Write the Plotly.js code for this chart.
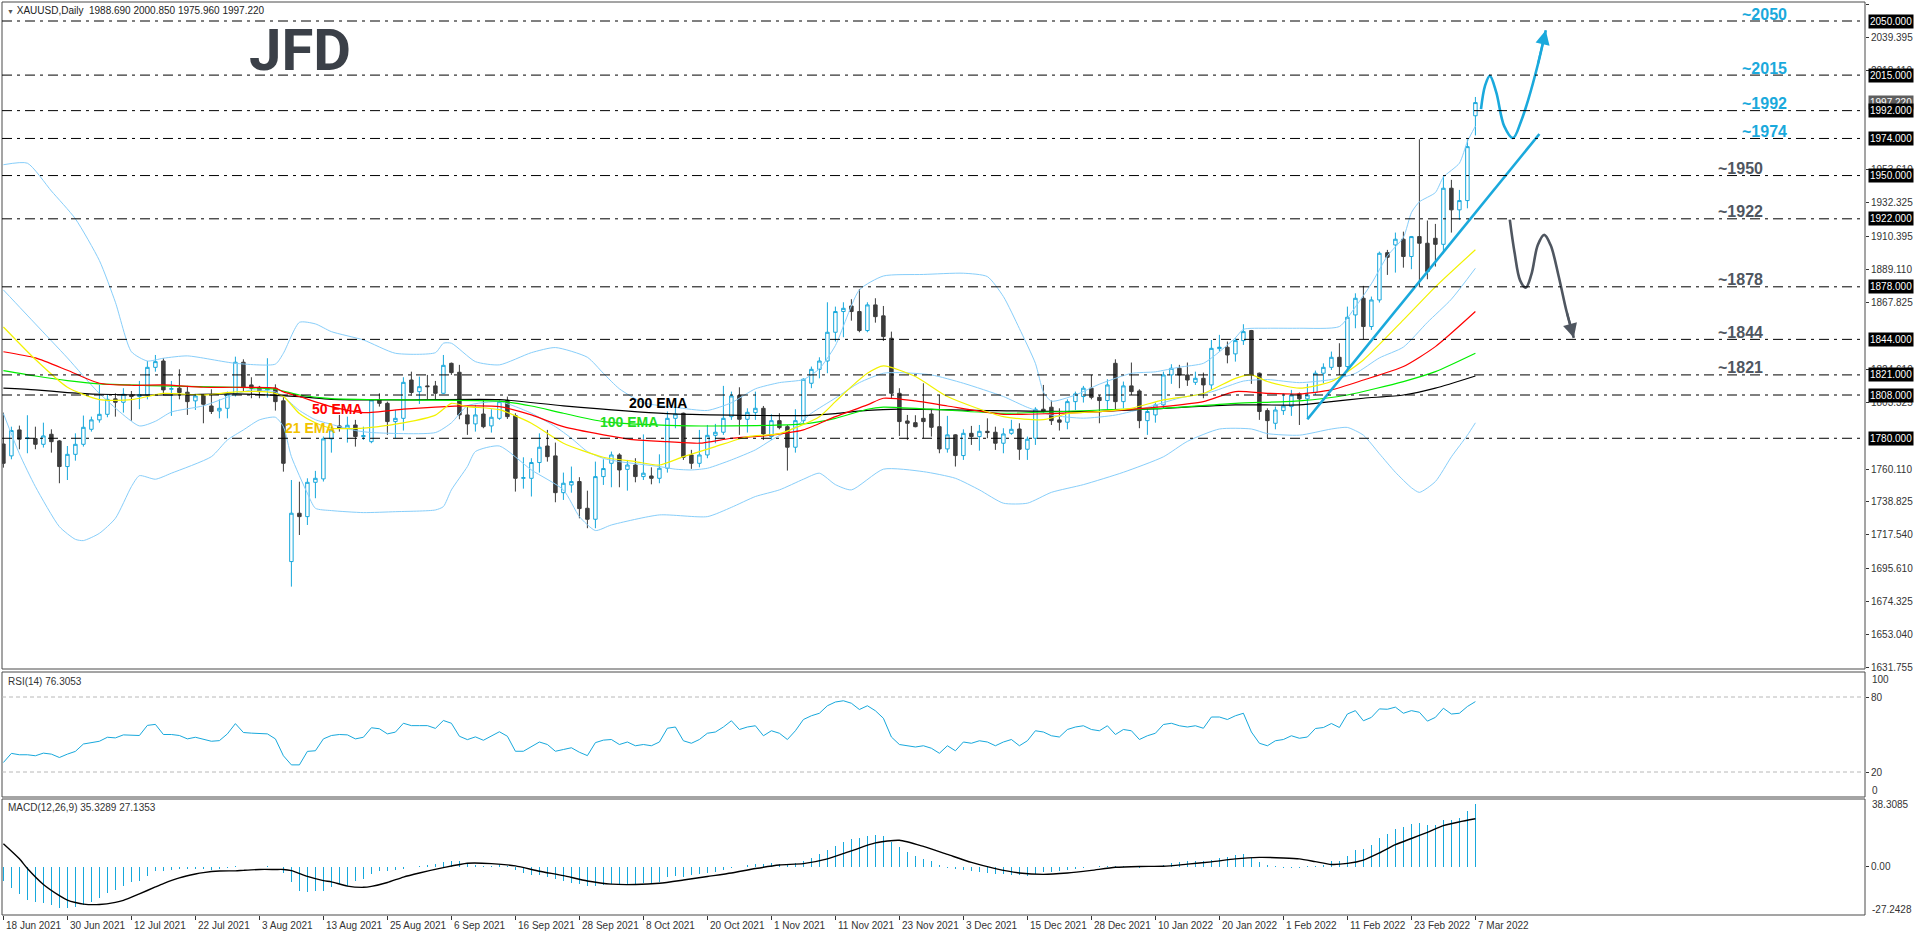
<!DOCTYPE html>
<html><head><meta charset="utf-8">
<script src="https://cdn.plot.ly/plotly-3.0.1.min.js"></script>
<style>html,body{margin:0;padding:0;background:#fff;overflow:hidden}#chart{width:1916px;height:936px}</style>
</head><body><div id="chart"></div>
<script>
// ---------------- DATA ----------------
const dateLabels = ['18 Jun 2021','30 Jun 2021','12 Jul 2021','22 Jul 2021','3 Aug 2021','13 Aug 2021','25 Aug 2021','6 Sep 2021','16 Sep 2021','28 Sep 2021','8 Oct 2021','20 Oct 2021','1 Nov 2021','11 Nov 2021','23 Nov 2021','3 Dec 2021','15 Dec 2021','28 Dec 2021','10 Jan 2022','20 Jan 2022','1 Feb 2022','11 Feb 2022','23 Feb 2022','7 Mar 2022'];
const dateTickBars = [0,8,16,24,32,40,48,56,64,72,80,88,96,104,112,120,128,136,144,152,160,168,176,184];

const open = [
1776.3,1768.6,1785.4,1779.8,1779.8,1776.1,1782.6,1778.3,1761.7,1769.6,
1776.1,1785.8,1791.9,1795.5,1805.5,1803.3,1808.0,1807.0,1808.0,1825.9,
1830.0,1811.7,1812.4,1809.8,1804.2,1807.6,1800.9,1797.7,1799.4,1808.5,
1829.2,1814.5,1813.0,1811.3,1812.4,1804.2,1700.2,1731.5,1729.3,1751.5,
1753.7,1779.6,1788.0,1786.5,1788.6,1781.1,1777.8,1804.8,1802.6,1790.8,
1792.9,1817.7,1810.2,1813.9,1813.9,1809.1,1828.5,1822.7,1795.1,1789.3,
1795.7,1788.0,1792.9,1804.4,1794.7,1754.1,1754.1,1764.3,1775.0,1768.6,
1744.8,1749.8,1752.0,1734.7,1727.6,1755.2,1763.8,1769.2,1759.9,1762.7,
1755.2,1755.6,1754.1,1760.6,1792.9,1796.2,1769.2,1763.8,1769.2,1781.9,
1783.9,1794.0,1807.6,1792.3,1796.6,1799.4,1781.1,1791.4,1787.5,1774.2,
1791.4,1815.6,1824.6,1830.0,1848.6,1862.0,1865.6,1862.0,1849.7,1866.3,
1859.2,1844.7,1809.1,1791.2,1790.1,1792.9,1795.7,1787.5,1773.1,1782.2,
1768.8,1783.2,1781.1,1784.5,1783.9,1776.8,1783.2,1786.0,1772.9,1780.0,
1798.8,1800.1,1791.9,1790.4,1803.7,1807.0,1812.4,1806.5,1804.4,1828.5,
1803.7,1813.9,1810.6,1791.4,1795.1,1801.6,1821.0,1825.3,1821.0,1816.2,
1818.8,1814.5,1838.0,1838.9,1834.6,1843.2,1849.7,1822.1,1797.9,1789.7,
1797.9,1800.5,1808.7,1805.5,1809.6,1822.1,1825.9,1832.4,1826.4,1859.8,
1870.6,1852.3,1869.5,1900.1,1905.1,1908.8,1897.6,1910.5,1906.2,1909.4,
1905.5,1941.8,1927.8,1933.8,1988.69];
const high = [
1796.6,1787.5,1788.2,1794.9,1787.5,1790.1,1785.8,1778.9,1775.0,1783.2,
1794.7,1794.0,1814.5,1808.5,1809.1,1812.4,1810.6,1817.1,1830.0,1833.9,
1831.8,1817.1,1824.6,1813.9,1808.7,1808.5,1811.7,1805.2,1810.2,1832.8,
1831.1,1819.5,1813.9,1831.8,1814.9,1807.0,1753.0,1751.9,1754.1,1758.9,
1781.1,1787.5,1795.1,1794.0,1791.9,1787.5,1805.2,1809.1,1803.7,1798.3,
1819.5,1823.1,1819.9,1821.0,1817.1,1833.9,1829.0,1827.5,1800.5,1801.6,
1804.8,1798.8,1804.6,1807.0,1796.2,1767.7,1767.1,1783.2,1785.4,1777.2,
1757.8,1761.7,1754.8,1746.1,1764.9,1766.4,1771.4,1770.3,1766.0,1767.1,
1782.5,1761.2,1769.6,1797.3,1802.6,1796.6,1772.5,1785.4,1788.6,1789.3,
1813.9,1810.2,1813.0,1799.4,1810.2,1800.9,1795.5,1796.2,1788.6,1798.8,
1818.8,1826.4,1832.4,1868.0,1865.2,1868.0,1870.0,1876.6,1868.0,1870.6,
1865.6,1849.0,1812.4,1795.1,1794.9,1815.6,1798.8,1808.0,1794.5,1782.6,
1785.8,1788.0,1788.6,1792.9,1787.5,1786.5,1791.9,1789.7,1781.1,1800.1,
1814.5,1804.4,1799.4,1805.2,1810.2,1813.9,1821.0,1808.0,1818.2,1831.1,
1816.7,1829.0,1811.7,1799.4,1803.1,1823.1,1827.9,1827.5,1829.0,1823.1,
1822.5,1843.6,1846.9,1842.6,1844.7,1853.8,1850.1,1822.5,1799.4,1800.5,
1809.1,1811.3,1809.6,1815.2,1823.8,1828.5,1836.1,1841.5,1865.2,1873.8,
1878.6,1871.7,1900.8,1901.9,1913.1,1913.7,1910.9,1973.5,1920.9,1918.7,
1949.8,1947.2,1940.7,1973.5,2000.85];
const low = [
1761.0,1766.4,1772.9,1770.3,1772.9,1774.0,1770.7,1750.9,1753.0,1765.5,
1774.6,1784.3,1790.1,1793.6,1794.0,1796.6,1791.4,1798.8,1805.2,1823.1,
1808.0,1794.5,1805.2,1795.1,1798.3,1789.7,1795.7,1792.9,1792.9,1807.0,
1810.2,1805.9,1805.9,1806.3,1797.9,1758.4,1684.0,1717.4,1723.9,1741.2,
1752.0,1770.7,1784.3,1777.2,1774.6,1778.9,1776.8,1800.5,1782.2,1780.0,
1785.0,1807.4,1802.2,1805.2,1804.8,1808.7,1821.0,1792.3,1782.2,1784.3,
1786.5,1783.7,1791.9,1792.5,1745.5,1747.4,1742.3,1757.8,1764.9,1738.6,
1740.1,1744.8,1728.2,1721.8,1721.8,1749.8,1748.3,1748.3,1746.1,1751.5,
1753.0,1750.2,1750.9,1757.8,1786.5,1766.0,1760.2,1761.2,1767.1,1776.8,
1782.2,1791.9,1782.2,1783.7,1791.9,1778.9,1778.9,1785.8,1759.1,1770.7,
1789.7,1812.4,1818.8,1822.1,1842.6,1845.4,1856.1,1848.6,1848.6,1854.8,
1843.0,1805.9,1781.5,1778.9,1787.1,1780.0,1781.1,1770.3,1770.7,1761.7,
1766.0,1775.7,1772.0,1780.0,1772.5,1770.3,1782.2,1766.0,1766.0,1775.7,
1796.2,1788.6,1785.0,1785.8,1798.3,1803.1,1805.2,1789.7,1798.3,1798.3,
1799.4,1808.0,1786.5,1782.2,1790.1,1799.4,1815.2,1812.4,1813.9,1814.5,
1805.9,1811.3,1836.1,1828.5,1829.6,1840.4,1815.2,1791.9,1780.0,1785.8,
1795.1,1794.5,1788.6,1792.3,1808.0,1815.6,1824.2,1821.0,1824.2,1851.2,
1844.1,1850.1,1867.8,1885.7,1887.2,1890.4,1889.4,1877.7,1882.9,1891.1,
1899.7,1913.1,1921.3,1928.8,1975.96];
const close = [
1763.8,1785.0,1779.4,1780.2,1776.1,1781.5,1777.8,1761.7,1769.6,1776.1,
1787.1,1791.9,1795.5,1805.2,1803.3,1808.5,1807.0,1808.3,1825.9,1829.6,
1811.3,1812.1,1809.6,1803.7,1807.4,1802.0,1797.3,1799.4,1808.5,1829.2,
1813.0,1812.4,1810.2,1811.9,1803.7,1763.8,1731.5,1729.3,1751.5,1754.1,
1779.6,1785.4,1786.5,1788.4,1781.1,1781.7,1804.8,1802.6,1790.8,1792.9,
1816.2,1809.6,1813.4,1813.4,1809.1,1827.2,1822.5,1795.1,1789.3,1795.1,
1787.5,1793.6,1803.7,1794.0,1754.1,1754.5,1764.3,1774.2,1768.1,1744.8,
1750.9,1752.0,1734.5,1727.6,1755.2,1760.4,1769.2,1759.5,1762.7,1755.2,
1757.4,1754.1,1760.6,1792.9,1795.7,1767.7,1763.8,1769.2,1781.9,1783.9,
1792.9,1807.4,1792.3,1796.8,1799.4,1782.8,1791.4,1786.9,1774.2,1791.4,
1818.2,1824.6,1830.0,1848.6,1862.0,1864.1,1862.0,1849.7,1866.3,1858.7,
1845.8,1809.1,1790.8,1789.7,1787.5,1790.8,1787.1,1773.1,1782.2,1768.8,
1783.2,1781.1,1784.5,1783.7,1776.8,1782.8,1785.8,1772.9,1779.4,1798.8,
1797.3,1791.4,1790.4,1803.7,1808.7,1812.4,1806.5,1804.4,1814.5,1803.7,
1813.9,1810.2,1791.4,1797.3,1801.6,1821.0,1825.3,1821.0,1817.7,1818.8,
1814.5,1838.2,1838.9,1833.9,1843.2,1849.0,1821.6,1797.3,1791.4,1798.3,
1800.9,1808.0,1805.5,1808.0,1822.1,1825.9,1832.4,1826.4,1858.3,1870.6,
1852.3,1869.5,1899.7,1897.1,1908.8,1897.6,1910.5,1906.2,1887.9,1905.5,
1941.8,1927.8,1933.8,1968.7,1997.22];

// Bollinger bands (sampled bars)
const bbUpX = [0,3,6,9,12,14,16,18,20,23,29,34,35,37,39,41,45,49,54,55,56,59,62,66,69,73,75,77,80,84,88,91,94,97,100,102,104,107,110,115,120,123,125,127,129,130,131,134,137,141,144,147,150,152,154,155,158,162,167,169,171,173,175,176,177,179,180,182,183,184];
const bbUp = [1957,1958,1940,1922,1895,1868,1836,1830,1831.8,1833.3,1828.5,1828,1835,1855,1854,1849,1843.6,1835,1835.4,1841.5,1841.5,1829.6,1827.5,1835.4,1838.7,1832.4,1822,1812,1803,1800,1798,1803,1812,1816,1818,1825,1840,1876,1885,1886,1886.8,1884.6,1871.7,1851,1828.5,1810,1804,1808,1815,1822,1823,1826,1828.5,1836,1845,1850.5,1851.2,1851.2,1852.3,1865,1880,1898,1910,1926,1933,1939,1949,1958,1972,1982];
const bbMidX = [0,4,8,12,17,19,21,25,29,31,34,35,37,39,41,44,46,54,56,58,62,64,66,69,71,73,75,77,82,84,86,88,91,94,96,99,101,104,107,110,112,116,120,125,128,131,135,139,143,147,151,155,158,162,166,169,172,175,178,181,184];
const bbMid = [1876,1854,1832,1809,1788,1791,1797,1801,1808.5,1811.3,1810,1807,1798,1792,1789,1785,1783.7,1783.7,1790,1801,1803.7,1800.5,1796.2,1787.5,1780,1771.4,1767,1764.9,1761.7,1760,1759.5,1760.6,1766,1772.5,1778.9,1787.5,1796.2,1806,1816,1822.1,1822.5,1821,1815.6,1807,1800,1795,1793,1795,1800,1806,1810,1817,1818,1816,1818,1822,1832,1839,1855,1870,1890];
const bbLowX = [0,2,4,7,9,10,12,14,16,17,19,21,26,28,30,32,34,35,36,38,39,41,45,49,54,55,56,58,59,62,66,70,72,74,76,82,88,91,94,97,100,102,104,106,110,115,119,122,125,128,131,135,140,145,148,152,156,158,162,166,168,170,172,174,176,177,179,181,183,184];
const bbLow = [1796,1770,1748.7,1722.8,1714.6,1713.8,1718.5,1728.2,1748.7,1755.8,1753.5,1757.4,1768.1,1778.9,1785.4,1791.9,1793.6,1787.5,1768.1,1744.4,1734.7,1733.2,1731.9,1732.5,1733.6,1735.8,1746.6,1761.7,1771.4,1775,1759.5,1746.6,1729.3,1720.3,1723.9,1730.4,1729.3,1735.3,1742.3,1746.6,1753.5,1757.4,1750,1746.6,1760,1758.4,1754.1,1746.6,1738,1738,1745,1750,1758,1768,1778,1786,1786,1783,1782,1786,1787,1782,1770,1758,1748,1745,1752,1768,1782,1790];

// EMAs (sampled bars)
const ema21X = [0,4,8,12,16,20,25,29,33,35,37,39,41,45,50,54,56,58,62,66,70,75,79,82,85,89,93,97,102,104,106,108,110,114,118,125,130,133,137,141,145,150,154,156,158,162,166,170,175,179,184];
const ema21 = [1852,1831,1813,1805,1805,1809,1808,1810,1810,1807,1796,1790,1786.5,1786.5,1790,1795,1802.6,1800.5,1798.5,1789.7,1776.8,1767.7,1764.9,1762.7,1768.1,1774.6,1781,1783,1794,1803.7,1813.4,1822,1826.8,1820,1807,1794,1792,1796,1797.3,1799.4,1804.8,1809,1818.8,1821,1816.7,1812.4,1816.7,1830.7,1856.6,1878,1902];
const ema50X = [0,4,8,12,16,20,25,29,34,35,37,41,45,50,54,58,62,66,70,75,79,83,87,91,95,100,104,108,110,114,118,125,131,137,145,150,154,158,162,166,170,175,179,184];
const ema50 = [1836,1832,1824,1815.6,1814.3,1814.5,1813,1813,1812.4,1810,1807,1800.5,1796.6,1798.8,1800.1,1800.9,1800.5,1795.1,1787.5,1782.2,1778.9,1777.8,1776.8,1780,1781.5,1785.4,1794,1801.6,1805.9,1804.2,1800.9,1795.5,1796,1797.3,1800.5,1803.7,1810.2,1809.1,1808.7,1811.3,1817.7,1826.4,1839.3,1862];
const ema100X = [0,4,8,12,20,29,34,37,41,50,62,66,70,75,83,91,100,104,108,110,116,125,137,145,154,162,168,175,179,184];
const ema100 = [1823.8,1820.3,1817.3,1815.2,1813.9,1813,1811.7,1808,1805.7,1804.8,1804,1800.9,1796.2,1790.8,1788.4,1788,1789.3,1792.9,1798.8,1800.1,1798.8,1796.2,1798.3,1799.4,1802.6,1804.2,1808,1816.7,1823.1,1835];
const ema200X = [0,4,8,12,20,29,37,41,50,62,70,83,91,100,104,108,112,124,137,145,154,162,166,170,175,179,184];
const ema200 = [1812.4,1811.3,1809.6,1808.5,1808,1808.7,1807,1805.2,1804.8,1805,1801,1796,1795,1794.7,1796,1798,1798.8,1797.9,1797.3,1799.4,1801.6,1801.6,1803.7,1805.9,1808,1812.4,1820.3];

// RSI(14) per bar
const rsi = [
27.6,34.9,33.8,33.8,33.0,35.1,34.3,31.6,34.3,36.5,
42.4,43.8,44.6,47.8,47.3,49.7,49.2,49.2,57.3,58.1,
50.0,50.0,49.2,46.5,47.8,45.9,44.6,45.1,50.5,58.7,
51.6,51.1,50.5,50.5,46.5,33.0,25.7,25.7,36.5,37.0,
46.5,49.2,50.0,49.7,46.5,47.8,55.4,54.6,50.5,51.9,
59.0,57.1,57.1,57.1,54.9,61.2,59.0,48.6,45.9,48.1,
45.4,48.8,52.2,48.6,36.6,36.6,40.0,44.0,42.0,36.6,
38.0,39.4,35.8,33.1,43.5,45.5,46,42,44,41,
42,41,44,55,56,45,43,46,51,52,
56,61,54,56,57,49,53,51,46,53,
62,65,67,73,76,77,75,70,73,69,
63,48,42,41,40,41,39,35,41,37,
44,43,45,44,41,44,46,41,45,53,
52,49,48,54,56,57,54,53,57,50,
54,53,46,49,51,58,59,57,56,57,
55,64,64,62,65,67,52,43,41,45,
46,49,47,48,54.8,55.6,58.8,55.6,66.4,69.1,
61.0,63.7,70.5,70.2,71.9,67.0,69.1,67.8,60.7,63.7,
71.0,66.4,67.0,72.4,76.3053];

// MACD(12,26,9) main (histogram) per bar
const macd = [
-8.1,-12.2,-15.6,-18.5,-19.9,-20.7,-21.8,-23.2,-23.5,-22.6,
-21.8,-19.9,-17.5,-14.7,-13.2,-10.9,-8.7,-8.1,-5.3,-2.4,
-2.1,-1.9,-1.5,-1.1,-1.5,-1.5,-1.9,-1.1,-0.5,0.4,
0.1,0.1,-0.2,0.4,0.1,-3.4,-8.6,-13.4,-14.3,-13.7,
-13.7,-11.5,-9.6,-10.9,-8.1,-6.8,-4.3,-2.4,-2.4,-1.9,
-1.0,-0.3,0.5,1.0,1.5,2.5,3.5,3.0,2.0,1.2,
0.5,0.5,0.8,0.2,-2.0,-3.5,-4.5,-4.8,-5.5,-7.0,
-8.0,-9.0,-10.0,-11.0,-11.0,-10.5,-10.0,-10.0,-9.5,-9.5,
-9.0,-9.0,-8.5,-6.0,-5.0,-5.5,-4.5,-4.0,-3.5,-3.0,
-2.0,-0.5,0.0,0.8,1.5,1.5,2.0,1.8,1.5,2.0,
3.5,5.0,7.0,9.5,12.0,14.0,15.5,16.0,17.5,18.0,
17.5,14.0,11.0,8.5,6.0,4.5,3.0,1.0,-0.5,-1.5,
-2.0,-2.5,-3.0,-3.5,-4.0,-4.2,-4.5,-4.8,-5.0,-4.0,
-3.0,-2.8,-2.5,-1.8,-1.0,-0.5,0.0,0.3,0.5,0.5,
0.5,0.3,-0.5,-0.3,0.0,1.0,2.0,2.5,3.0,3.0,
3.0,4.0,5.0,5.5,6.5,7.0,5.0,2.5,1.0,0.3,
-0.5,-0.5,-0.8,0.2,0.3,1.0,3.1,3.1,6.1,9.5,
10.1,12.4,16.4,18.7,21.6,22.5,24.4,25.0,23.9,23.9,
26.7,26.7,27.7,31.5,35.3289];
// MACD signal (sampled bars)
const sigX = [0,2,3,5,7,8,9,10,12,14,15,17,19,20,22,24,25,27,29,30,32,34,35,36,38,40,41,43,45,46,48,50,52,55,58,61,64,67,70,73,76,79,82,85,88,91,94,97,100,103,106,109,112,115,118,121,124,127,130,133,136,139,142,145,148,151,154,157,160,162,164,166,168,170,172,174,176,178,180,182,184];
const sig = [13.0,4.5,-1,-10,-16.3,-18.8,-20.2,-21.1,-21.3,-20.1,-19,-15.3,-11.4,-9.5,-6.3,-4.1,-3.3,-2.4,-2.3,-2.0,-1.5,-1.5,-1.5,-2.2,-5.4,-7.8,-8.5,-10.9,-11.6,-11.1,-8.9,-5.8,-3.5,-0.5,2.0,1.8,0.5,-2.5,-5.0,-8.0,-9.8,-10.0,-9.3,-7.5,-5.5,-3.5,-1.0,1.0,1.8,4.5,9.0,13.5,15.0,11.5,7.0,2.5,-1.0,-3.5,-4.3,-3.5,-2.0,-0.3,0.2,0.3,1.5,2.8,4.5,5.3,5.0,4.5,2.9,1.3,1.9,3.8,7.8,12.5,16.0,19.5,23.3,25.4,27.1353];

// Horizontal levels and their chart labels
const levels = [2050,2015,1992,1974,1950,1922,1878,1844,1821,1808,1780];
const levelTexts = ['~2050','~2015','~1992','~1974','~1950','~1922','~1878','~1844','~1821'];
const levelTextBlue = [true,true,true,true,false,false,false,false,false];
const priceTicks = [2060.680,2039.395,2018.110,1953.610,1932.325,1910.395,1889.110,1867.825,1824.610,1803.325,1760.110,1738.825,1717.540,1695.610,1674.325,1653.040,1631.755];

// Trendline and projected paths (bar index, price)
const trendX = [163,192], trendY = [1792.3,1976.9];
const upPathX = [184.7,185.2,185.8,186.6,187.6,188.7,189.7,190.6,191.8,192.8];
const upPathY = [1993,2008,2014.5,2004,1982,1974.3,1985,1999,2021.7,2044];
const dnPathX = [188.3,188.9,189.6,190.3,191.0,191.8,192.6,193.4,194.4,195.4,196.3];
const dnPathY = [1921.5,1900,1882,1877.5,1886,1905,1911.6,1905,1885,1862,1845];

// ---------------- DRAW ----------------
const FONT = 'Liberation Sans, Arial, sans-serif';
const CYAN = '#17a8dc', DARK = '#3c3c3c', BB = '#87cefa', GRAYP = '#4f5660', BLUEP = '#1aa9dc';
const N = close.length;
const xs = close.map((_, i) => i);

// pixel geometry of the panels
const PL = 2, PR = 1865, PT = 2, PB = 915;
const xp = px => (px - PL) / (PR - PL);
const yp = py => (PB - py) / (PB - PT);
const mainDom = [yp(669), 1];
const rsiDom = [yp(797), yp(672)];
const macdDom = [0, yp(799)];

function ln(x, y, color, width, yaxis, extra) {
  return Object.assign({type: 'scatter', mode: 'lines', x: x, y: y, xaxis: 'x', yaxis: yaxis,
    line: {color: color, width: width}, hoverinfo: 'skip', showlegend: false}, extra || {});
}
const traces = [];
const sp = (c, w) => ({color: c, width: w, shape: 'spline', smoothing: 0.6});
traces.push(ln(bbUpX, bbUp, BB, 1, 'y', {line: sp(BB, 1)}));
traces.push(ln(bbMidX, bbMid, BB, 1, 'y', {line: sp(BB, 1)}));
traces.push(ln(bbLowX, bbLow, BB, 1, 'y', {line: sp(BB, 1)}));
traces.push(ln(ema200X, ema200, '#000000', 1, 'y', {line: sp('#000000', 1.2)}));
traces.push(ln(ema100X, ema100, '#00ee00', 1, 'y', {line: sp('#00ee00', 1.2)}));
traces.push(ln(ema50X, ema50, '#ff0000', 1, 'y', {line: sp('#ff0000', 1.2)}));
traces.push(ln(ema21X, ema21, '#ffff00', 1, 'y', {line: sp('#f2f200', 1.2)}));
traces.push({type: 'candlestick', x: xs, open: open, high: high, low: low, close: close,
  xaxis: 'x', yaxis: 'y', whiskerwidth: 0, hoverinfo: 'none', showlegend: false,
  increasing: {line: {color: CYAN, width: 1}, fillcolor: '#ffffff'},
  decreasing: {line: {color: DARK, width: 1}, fillcolor: DARK}});
traces.push(ln(trendX, trendY, BLUEP, 2.6, 'y'));
traces.push(ln(upPathX, upPathY, BLUEP, 2.6, 'y', {line: {color: BLUEP, width: 2.6, shape: 'spline', smoothing: 1}}));
traces.push(ln(dnPathX, dnPathY, GRAYP, 2.6, 'y', {line: {color: GRAYP, width: 2.6, shape: 'spline', smoothing: 1}}));
traces.push(ln(xs, rsi, CYAN, 1, 'y2'));
traces.push({type: 'bar', x: xs, y: macd, xaxis: 'x', yaxis: 'y3', width: 0.16,
  marker: {color: CYAN, line: {width: 0}}, hoverinfo: 'skip', showlegend: false});
traces.push(ln(sigX, sig, '#000000', 1.4, 'y3', {line: sp('#000000', 1.4)}));

const shapes = [];
[mainDom, rsiDom, macdDom].forEach(d => shapes.push({type: 'rect', xref: 'paper', yref: 'paper',
  x0: 0, x1: 1, y0: d[0], y1: d[1], line: {color: '#4a4a4a', width: 1}, fillcolor: 'rgba(0,0,0,0)'}));
levels.forEach(v => shapes.push({type: 'line', xref: 'paper', yref: 'y', x0: 0, x1: 1, y0: v, y1: v,
  line: {color: '#000000', width: 1, dash: '10px,5px,3px,5px'}}));
[80, 20].forEach(v => shapes.push({type: 'line', xref: 'paper', yref: 'y2', x0: 0, x1: 1, y0: v, y1: v,
  line: {color: '#b8b8b8', width: 1, dash: '4px,3px'}}));

const ann = [];
const A = o => ann.push(Object.assign({showarrow: false, font: {family: FONT, size: 10, color: '#222'}}, o));
A({xref: 'paper', yref: 'paper', x: xp(5), y: yp(11), xanchor: 'left', yanchor: 'middle',
  text: '<span style="font-size:7px;color:#555">▼</span> XAUUSD,Daily\u00a0\u00a0' +
    [open[N-1], high[N-1], low[N-1], close[N-1]].map(v => v.toFixed(3)).join(' ')});
A({xref: 'paper', yref: 'paper', x: xp(300), y: yp(50), xanchor: 'center', yanchor: 'middle',
  text: '<b>JFD</b>', font: {family: 'Roboto, Liberation Sans, sans-serif', size: 58, color: '#3b4048'}});
// EMA labels
const emaLab = [['50 EMA', 337, 409, '#ff0000'], ['21 EMA', 310, 428, '#f2c200'],
  ['200 EMA', 658, 403, '#000000'], ['100 EMA', 629, 422, '#22dd22']];
emaLab.forEach(e => A({xref: 'paper', yref: 'paper', x: xp(e[1]), y: yp(e[2]), xanchor: 'center', yanchor: 'middle',
  text: '<b>' + e[0] + '</b>', font: {family: FONT, size: 14, color: e[3]}}));
// level labels
levelTexts.forEach((t, i) => A({xref: 'paper', yref: 'y', x: xp(levelTextBlue[i] ? 1764 : 1740), y: levels[i], yshift: 7,
  xanchor: 'center', yanchor: 'middle', text: '<b>' + t + '</b>',
  font: {family: FONT, size: 16, color: levelTextBlue[i] ? BLUEP : GRAYP}}));
// current price box then level boxes on the price scale
A({xref: 'paper', yref: 'y', x: 1, xshift: 3, y: close[N-1], xanchor: 'left', yanchor: 'middle',
  text: close[N-1].toFixed(3), bgcolor: '#5e5e5e', borderpad: 1, font: {family: FONT, size: 10, color: '#ffffff'}});
levels.forEach(v => A({xref: 'paper', yref: 'y', x: 1, xshift: 3, y: v, xanchor: 'left', yanchor: 'middle',
  text: v.toFixed(3), bgcolor: '#000000', borderpad: 1, font: {family: FONT, size: 10, color: '#ffffff'}}));
// indicator titles and fixed scale labels
A({xref: 'paper', yref: 'paper', x: xp(6), y: yp(681), xanchor: 'left', yanchor: 'middle',
  text: 'RSI(14) ' + rsi[N-1].toFixed(4), font: {family: FONT, size: 10, color: '#333'}});
A({xref: 'paper', yref: 'paper', x: xp(6), y: yp(807), xanchor: 'left', yanchor: 'middle',
  text: 'MACD(12,26,9) ' + macd[N-1].toFixed(4) + ' ' + sig[sig.length-1].toFixed(4), font: {family: FONT, size: 10, color: '#333'}});
[['100', 679], ['0', 790]].forEach(t => A({xref: 'paper', yref: 'paper', x: 1, xshift: 5, y: yp(t[1]),
  xanchor: 'left', yanchor: 'middle', text: t[0], font: {family: FONT, size: 10, color: '#333'}}));
[['38.3085', 804], ['-27.2428', 909]].forEach(t => A({xref: 'paper', yref: 'paper', x: 1, xshift: 5, y: yp(t[1]),
  xanchor: 'left', yanchor: 'middle', text: t[0], font: {family: FONT, size: 10, color: '#333'}}));
// date labels
dateLabels.forEach((d, i) => A({xref: 'x', yref: 'paper', x: dateTickBars[i], xshift: 1, y: yp(926),
  xanchor: 'left', yanchor: 'middle', text: d, font: {family: FONT, size: 10, color: '#333'}}));
// arrow heads
const ni = upPathX.length - 1, nd = dnPathX.length - 1;
ann.push({xref: 'x', yref: 'y', axref: 'x', ayref: 'y', x: upPathX[ni], y: upPathY[ni], ax: upPathX[ni-1], ay: upPathY[ni-1],
  showarrow: true, arrowhead: 2, arrowsize: 1.3, arrowwidth: 2.2, arrowcolor: BLUEP, text: ''});
ann.push({xref: 'x', yref: 'y', axref: 'x', ayref: 'y', x: dnPathX[nd], y: dnPathY[nd], ax: dnPathX[nd-1], ay: dnPathY[nd-1],
  showarrow: true, arrowhead: 2, arrowsize: 1.3, arrowwidth: 2.2, arrowcolor: GRAYP, text: ''});

const axY = {showgrid: false, zeroline: false, side: 'right', anchor: 'x', ticks: 'outside', ticklen: 3,
  tickcolor: '#333', tickfont: {family: FONT, size: 10, color: '#333'}, showline: false, fixedrange: true};
const layout = {
  width: 1916, height: 936, margin: {l: PL, r: 1916 - PR, t: PT, b: 936 - PB},
  paper_bgcolor: '#ffffff', plot_bgcolor: '#ffffff', showlegend: false, dragmode: false,
  font: {family: FONT, size: 10, color: '#222'}, boxgap: 0.38, bargap: 0,
  xaxis: {range: [-0.175, (PR - 3.4) / 8], anchor: 'y3', showgrid: false, zeroline: false, showticklabels: false,
    ticks: 'outside', ticklen: 4, tickcolor: '#333', tickvals: dateTickBars, rangeslider: {visible: false}, fixedrange: true},
  yaxis: Object.assign({}, axY, {domain: mainDom, range: [1630.7, 2062.3], tickvals: priceTicks,
    ticktext: priceTicks.map(v => v.toFixed(3))}),
  yaxis2: Object.assign({}, axY, {domain: rsiDom, range: [0, 100], tickvals: [80, 20], ticktext: ['80', '20']}),
  yaxis3: Object.assign({}, axY, {domain: macdDom, range: [-27.2428, 38.3085], tickvals: [0], ticktext: ['0.00']}),
  shapes: shapes, annotations: ann
};
Plotly.newPlot('chart', traces, layout, {staticPlot: true, displayModeBar: false});
</script></body></html>
